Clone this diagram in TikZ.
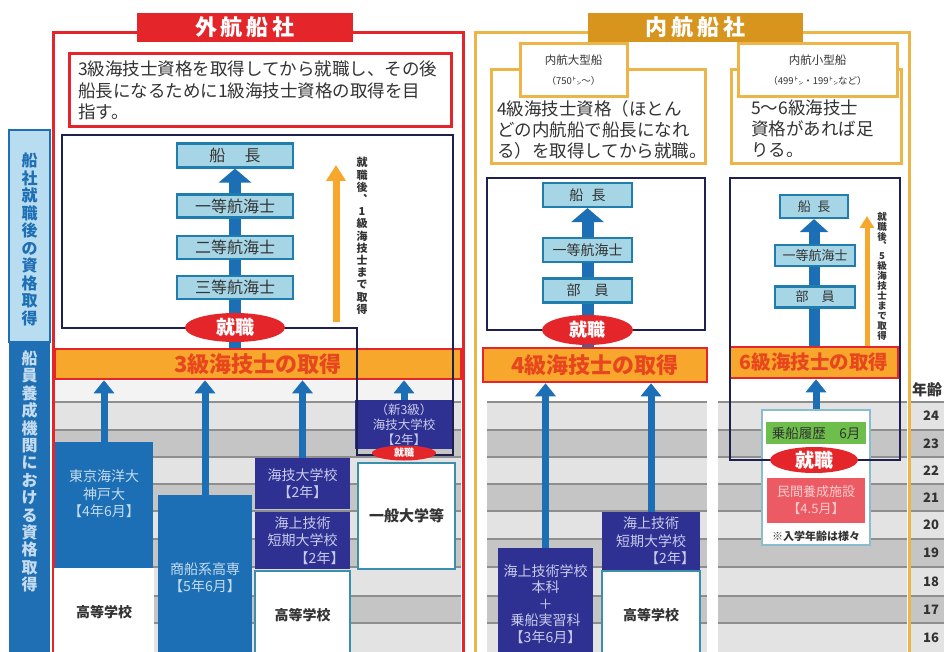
\documentclass[tikz,border=0pt]{standalone}
\usepackage{fontspec}
\setmainfont{Noto Sans CJK JP}
\usetikzlibrary{arrows.meta,shapes.geometric}
\definecolor{sideblue}{HTML}{1F6FB5}
\definecolor{sidelight}{HTML}{B8DDF0}
\definecolor{redA}{HTML}{E4262A}
\definecolor{goldA}{HTML}{D8951E}
\definecolor{goldB}{HTML}{EDB548}
\definecolor{orangeA}{HTML}{F7A72B}
\definecolor{orangeT}{HTML}{E8461E}
\definecolor{navyA}{HTML}{1E2050}
\definecolor{cyanA}{HTML}{A6D6E6}
\definecolor{cyanB}{HTML}{1F7EAD}
\definecolor{indigoA}{HTML}{2E3192}
\definecolor{blueA}{HTML}{1C6FB4}
\definecolor{greyL}{HTML}{E3E3E3}
\definecolor{greyD}{HTML}{C5C5C5}
\definecolor{greyLine}{HTML}{8E8E8E}
\definecolor{greenA}{HTML}{6DBE4B}
\definecolor{pinkA}{HTML}{EC5B64}
\definecolor{pinkT}{HTML}{F9CDD0}
\definecolor{txtA}{HTML}{333333}
\definecolor{lavA}{HTML}{C9CBEB}
\definecolor{lblue}{HTML}{C5DCF0}
\definecolor{tealA}{HTML}{3A8FAA}
\newcommand{\fsz}[2]{\fontsize{#1}{#2}\selectfont}
\pgfdeclarelayer{bg}
\pgfdeclarelayer{arr}
\pgfsetlayers{bg,arr,main}
\tikzset{
  rank/.style={draw=cyanB, line width=2.2pt, fill=cyanA, inner sep=0pt, text=txtA},
  shu/.style={ellipse, fill=redA, text=white, inner sep=0pt},
  lvbar/.style={draw=redA, line width=2.5pt, fill=orangeA, text=orangeT, inner sep=0pt, font=\fsz{22}{22}\bfseries},
  uni/.style={fill=blueA, text=lblue, inner sep=0pt, align=center, font=\fsz{14}{17.5}},
  ind/.style={fill=indigoA, text=lavA, inner sep=0pt, align=center, font=\fsz{14}{17.5}},
  wbox/.style={fill=white, draw=tealA, line width=2pt, inner sep=0pt, text=txtA, font=\fsz{14}{14}\bfseries},
  navyline/.style={draw=navyA, line width=2.5pt},
  barrow/.style={draw=blueA, line width=12pt, -{Triangle[width=32pt,length=14pt]}},
  midarrow/.style={draw=blueA, line width=11pt, -{Triangle[width=28pt,length=13pt]}},
  sarrow/.style={draw=blueA, line width=7pt, -{Triangle[width=20pt,length=13pt]}},
  oarrow/.style={draw=orangeA, line width=7pt, -{Triangle[width=19pt,length=16pt]}},
  soarrow/.style={draw=orangeA, line width=5pt, -{Triangle[width=14pt,length=12pt]}},
  goldbox/.style={draw=goldB, line width=3pt, fill=white, inner sep=0pt},
}
\begin{document}
\begin{tikzpicture}[x=1pt,y=-1pt]
\useasboundingbox (0,0) rectangle (944,652);
% ---------- background and stripes
\begin{pgfonlayer}{bg}
\fill[white] (0,0) rectangle (944,652);
\fill[greyL!45] (55,381) rectangle (461,402);
\foreach \xa/\xb in {55/461,487/707,718/907,911/944}{
  \foreach \ya/\yb/\cc in {402/430/greyL,430/457/greyD,457/484/greyL,484/511/greyD,511/539/greyL,539/567/greyD,567/596/greyL,596/623/greyD,623/652/greyL}{
    \fill[\cc] (\xa,\ya) rectangle (\xb,\yb);
    \draw[greyLine,line width=1.6pt] (\xa,\ya) -- (\xb,\ya);
  }
}
\end{pgfonlayer}
% ---------- side bar
\node[fill=sidelight, draw=sideblue, line width=1.5pt, minimum width=41pt, minimum height=212pt, inner sep=0pt] (sideT) at (29.5,236) {};
\node[fill=sideblue, minimum width=41pt, minimum height=310pt, inner sep=0pt] (sideB) at (29.5,497) {};
\node[align=center, text=sideblue, font=\fsz{16}{17.5}\bfseries] (sideTT) at (29.5,239.5) {船\\社\\就\\職\\後\\の\\資\\格\\取\\得};
\node[align=center, text=lblue, font=\fsz{16}{17.4}\bfseries] (sideBT) at (29.5,471.5) {船\\員\\養\\成\\機\\関\\に\\お\\け\\る\\資\\格\\取\\得};
% ---------- left panel
\draw[redA, line width=3pt] (53,33) rectangle (463,660);
\node[fill=redA, minimum width=216pt, minimum height=29pt, inner sep=0pt, text=white, font=\fsz{22}{22}\bfseries] (titleL) at (245,27.5) {外\hspace{4pt}航\hspace{4pt}船\hspace{4pt}社};
\node[draw=redA, line width=3pt, fill=white, minimum width=382pt, minimum height=73pt, text width=364pt, align=left, inner sep=0pt, text=txtA, font=\fsz{17.5}{21.5}] (txtL) at (260,90.5) {3級海技士資格を取得してから就職し、その後\\船長になるために1級海技士資格の取得を目\\指す。};
\node[lvbar, minimum width=406pt, minimum height=30pt] (bar3) at (258,364) {3級海技士の取得};
\node[rank, minimum width=116pt, minimum height=24pt, font=\fsz{16}{16}] (capL) at (235,155.5) {船\hspace{1.2em}長};
\node[rank, minimum width=116pt, minimum height=23pt, font=\fsz{16}{16}] (m1L) at (235,206) {一等航海士};
\node[rank, minimum width=116pt, minimum height=23pt, font=\fsz{16}{16}] (m2L) at (235,247.5) {二等航海士};
\node[rank, minimum width=116pt, minimum height=23pt, font=\fsz{16}{16}] (m3L) at (235,287.5) {三等航海士};
\coordinate (oaL1) at (336,322);
\coordinate (oaL2) at (336,165);
\node[align=center, text=txtA, font=\fsz{11}{12.2}\bfseries] (vtL) at (362,236) {就\\職\\後\\︑\\1\\級\\海\\技\\士\\ま\\で\\取\\得};
% lower left boxes
\node[uni, minimum width=98pt, minimum height=127pt] (tokyo) at (104,505.5) {};
\node[text=lblue, align=center, inner sep=0pt, font=\fsz{14}{17.5}] (tokyoT) at (104,494) {東京海洋大\\神戸大\\【4年6月】};
\node[wbox, draw=white, minimum width=98pt, minimum height=86pt] (hs1) at (104,612) {高等学校};
\node[uni, minimum width=94pt, minimum height=165pt] (shosen) at (205,577.5) {商船系高専\\【5年6月】};
\node[ind, minimum width=95pt, minimum height=51pt] (kaigi1) at (302.5,483.5) {海技大学校\\【2年】};
\node[ind, minimum width=95pt, minimum height=57pt, text width=84pt] (tanki1) at (302.5,540.5) {海上技術\\短期大学校\\\mbox{}\hfill【2年】};
\node[wbox, minimum width=95pt, minimum height=89pt] (hs2) at (302.5,615.5) {高等学校};
\node[ind, minimum width=98pt, minimum height=49pt, font=\fsz{12.5}{15}] (new3) at (404,424.5) {（新3級）\\海技大学校\\【2年】};
\node[wbox, line width=2.5pt, minimum width=97pt, minimum height=106pt, font=\fsz{15}{15}\bfseries] (ippan) at (406.5,516) {一般大学等};
\draw[navyline] (62,135) -- (453,135) -- (453,455) -- (357,455) -- (357,328) -- (62,328) -- cycle;
\node[shu, minimum width=100pt, minimum height=29pt, font=\fsz{19}{19}\bfseries] (shuL) at (235,327.5) {就職};
\node[shu, minimum width=64pt, minimum height=15pt, font=\fsz{10}{10}\bfseries] (shuS) at (404,453) {就職};
% ---------- right panel
\draw[goldB, line width=3pt] (475,33) rectangle (909,660);
\node[fill=goldA, minimum width=215pt, minimum height=29pt, inner sep=0pt, text=white, font=\fsz{22}{22}\bfseries] (titleR) at (695.5,27.5) {内\hspace{4pt}航\hspace{4pt}船\hspace{4pt}社};
\node[goldbox, minimum width=214pt, minimum height=94pt] (boxB) at (598,117) {};
\node[goldbox, minimum width=170pt, minimum height=94pt] (boxS) at (816,117) {};
\node[goldbox, minimum width=107pt, minimum height=53pt, align=center, text=txtA, font=\fsz{11.5}{20}] (lblB) at (573.5,70.5) {内航大型船\\{\fsz{9.5}{9.5}（750㌧〜）}};
\node[goldbox, minimum width=159pt, minimum height=53pt, align=center, text=txtA, font=\fsz{11.5}{20}] (lblS) at (817.5,70.5) {内航小型船\\{\fsz{9.5}{9.5}（499㌧・199㌧など）}};
\node[anchor=north west, align=left, inner sep=0pt, text=txtA, font=\fsz{17.5}{21}] (txtB) at (497,100) {4級海技士資格（ほとん\\どの内航船で船長になれ\\る）を取得してから就職。};
\node[anchor=north west, align=left, inner sep=0pt, text=txtA, font=\fsz{17.5}{21}] (txtS) at (751,100) {5〜6級海技士\\資格があれば足\\りる。};
% big ship column
\node[lvbar, minimum width=224pt, minimum height=34pt] (bar4) at (595,365) {4級海技士の取得};
\draw[navyline] (487,178) rectangle (705,330);
\node[rank, minimum width=89pt, minimum height=24pt, font=\fsz{14}{14}] (capB) at (587.5,195) {船\hspace{0.6em}長};
\node[rank, minimum width=89pt, minimum height=24pt, font=\fsz{14}{14}] (m1B) at (587.5,250) {一等航海士};
\node[rank, minimum width=89pt, minimum height=24pt, font=\fsz{14}{14}] (buB) at (587.5,290.5) {部\hspace{1em}員};
\node[shu, minimum width=91pt, minimum height=30pt, font=\fsz{18}{18}\bfseries] (shuB) at (587.5,330) {就職};
\node[ind, minimum width=95pt, minimum height=112pt, font=\fsz{14}{16.5}] (gakko) at (545.5,604) {海上技術学校\\本科\\＋\\乗船実習科\\【3年6月】};
\node[ind, minimum width=98pt, minimum height=58pt, text width=88pt] (tanki2) at (651,541) {海上技術\\短期大学校\\\mbox{}\hfill【2年】};
\node[wbox, minimum width=98pt, minimum height=89pt] (hs3) at (651,615.5) {高等学校};
% small ship column
\node[lvbar, minimum width=168pt, minimum height=31pt, font=\fsz{19.5}{19.5}\bfseries] (bar6) at (814,362.5) {6級海技士の取得};
\node[rank, minimum width=68pt, minimum height=23pt, font=\fsz{13}{13}] (capS) at (814,206.5) {船\hspace{0.5em}長};
\node[rank, minimum width=80pt, minimum height=21pt, font=\fsz{13}{13}] (m1S) at (815,255.5) {一等航海士};
\node[rank, minimum width=80pt, minimum height=21pt, font=\fsz{13}{13}] (buS) at (815,297) {部\hspace{1em}員};
\coordinate (oaS1) at (867,346);
\coordinate (oaS2) at (867,216);
\node[align=center, text=txtA, font=\fsz{9.5}{9.9}\bfseries] (vtS) at (882,276) {就\\職\\後\\︑\\5\\級\\海\\技\\士\\ま\\で\\取\\得};
\node[fill=white, draw=tealA!60, line width=2pt, minimum width=108pt, minimum height=135pt, inner sep=0pt] (wb) at (816,477.5) {};
\node[fill=greenA, minimum width=100pt, minimum height=22pt, inner sep=0pt, text=txtA, font=\fsz{13.5}{13.5}] (green) at (816,433) {乗船履歴\hspace{1em}6月};
\node[fill=pinkA, minimum width=98pt, minimum height=45pt, inner sep=0pt, align=center, text=pinkT, font=\fsz{13}{17}] (pink) at (816,500.5) {民間養成施設\\【4.5月】};
\node[inner sep=0pt, text=txtA, font=\fsz{11}{11}\bfseries] (note) at (816,536) {※入学年齢は様々};
\draw[navyline] (730,178) rectangle (900,460);
\node[shu, minimum width=88pt, minimum height=26pt, font=\fsz{19}{19}\bfseries] (shuC) at (814,460) {就職};
% ---------- age column
\node[anchor=west, inner sep=0pt, text=txtA, font=\fsz{15}{15}\bfseries] (agehead) at (912,390) {年齢};
\foreach \a/\yy in {24/416,23/443.5,22/470.5,21/497.5,20/525,19/553,18/581.5,17/609.5,16/637.5}{
  \node[text=txtA, font=\fsz{13}{13}\bfseries] (age\a) at (931,\yy) {\a};
}
% ---------- arrows
\begin{pgfonlayer}{arr}
\draw[barrow] (bar3.north -| capL.south) -- (capL.south);
\draw[oarrow] (oaL1) -- (oaL2);
\draw[sarrow] (tokyo.north) -- (tokyo.north |- bar3.south);
\draw[sarrow] (shosen.north) -- (shosen.north |- bar3.south);
\draw[sarrow] (kaigi1.north) -- (kaigi1.north |- bar3.south);
\draw[sarrow] (new3.north) -- (new3.north |- bar3.south);
\draw[barrow] (bar4.north -| capB.south) -- (capB.south);
\draw[sarrow] (gakko.north) -- (gakko.north |- bar4.south);
\draw[sarrow] (tanki2.north) -- (tanki2.north |- bar4.south);
\draw[midarrow] (bar6.north -| capS.south) -- (capS.south);
\draw[soarrow] (oaS1) -- (oaS2);
\draw[sarrow] (wb.north) -- (wb.north |- bar6.south);
\end{pgfonlayer}
\end{tikzpicture}
\end{document}
